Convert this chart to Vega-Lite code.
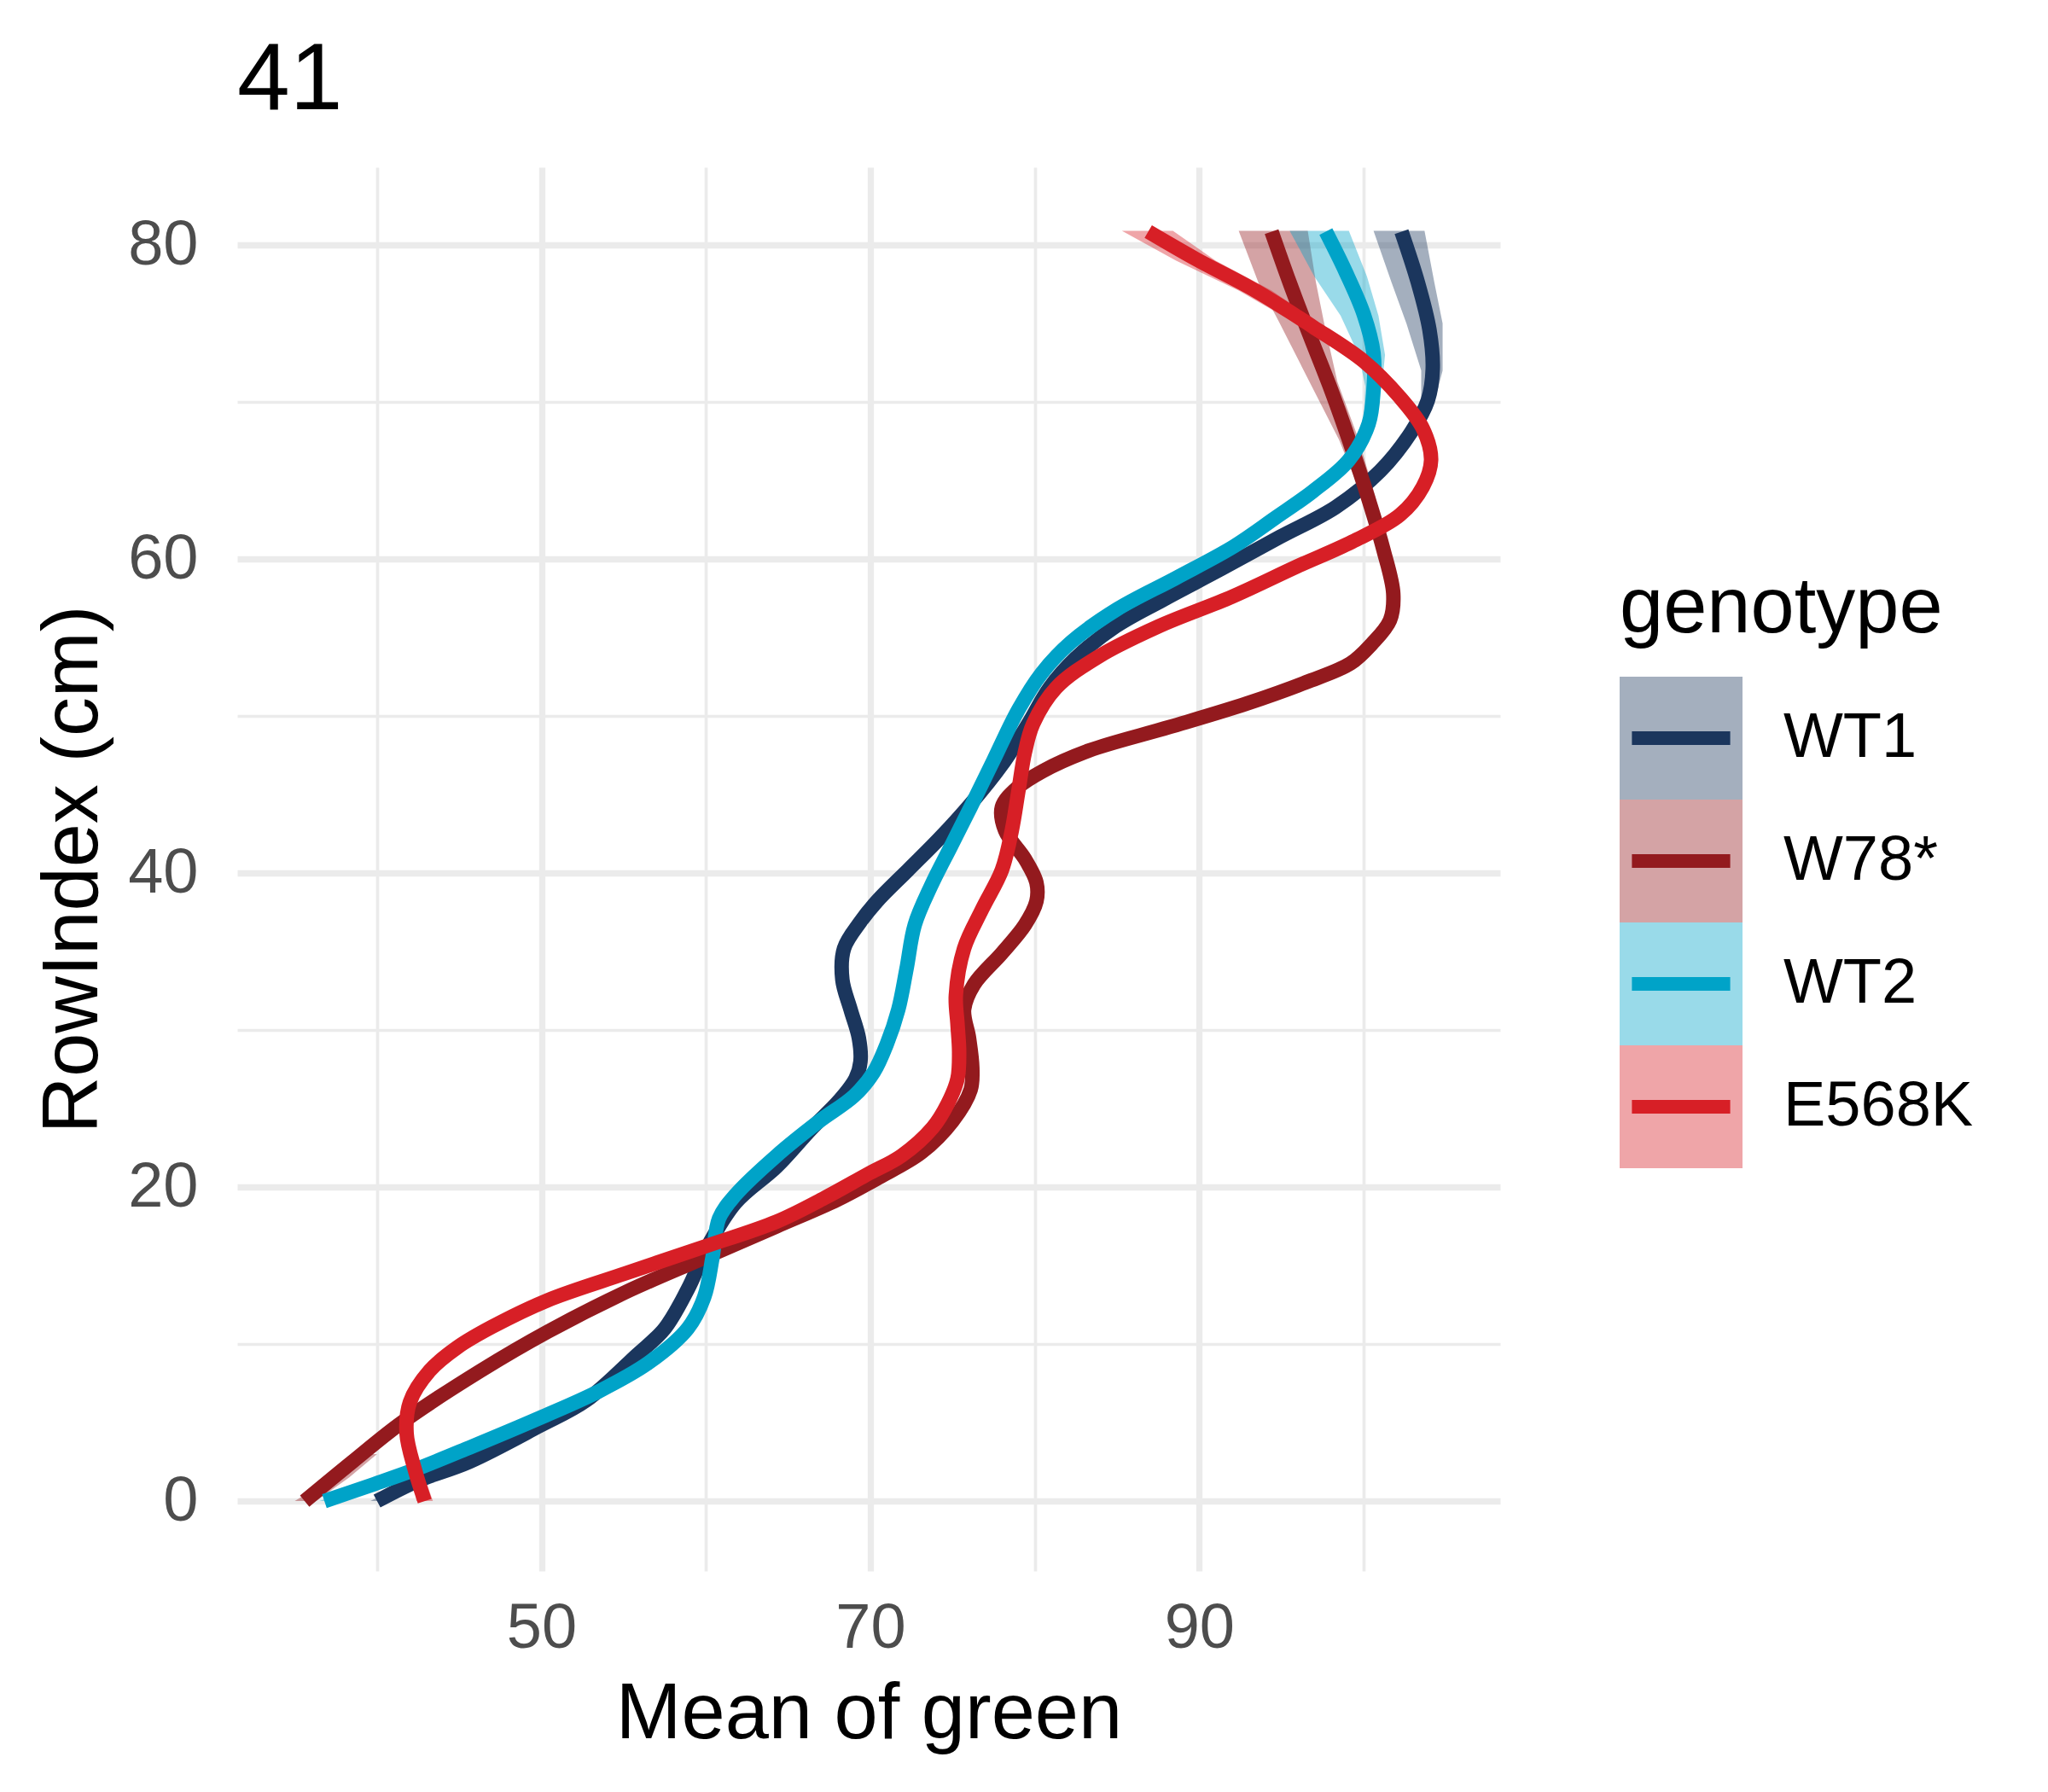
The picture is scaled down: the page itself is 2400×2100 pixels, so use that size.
{
  "$schema": "https://vega.github.io/schema/vega-lite/v6.json",
  "width": 1480,
  "height": 1645,
  "autosize": {"type": "none"},
  "padding": {"left": 278, "top": 196, "right": 642, "bottom": 259},
  "background": "white",
  "config": {"view": {"stroke": null}, "font": "Liberation Sans"},
  "title": {"text": "41", "anchor": "start", "frame": "group", "fontSize": 111, "font": "Liberation Sans", "fontWeight": "normal", "color": "black", "baseline": "alphabetic", "offset": -43},
  "datasets": {
    "lines": [
      {"g":"WT1","y":0,"x":40.0},{"g":"WT1","y":1.3,"x":42.5},{"g":"WT1","y":2.5,"x":45.6},{"g":"WT1","y":4.8,"x":49.9},{"g":"WT1","y":6.4,"x":52.7},{"g":"WT1","y":9.3,"x":55.8},{"g":"WT1","y":11,"x":57.5},{"g":"WT1","y":13.5,"x":58.9},{"g":"WT1","y":16.2,"x":60.1},{"g":"WT1","y":19,"x":61.8},{"g":"WT1","y":21.3,"x":64.3},{"g":"WT1","y":23.7,"x":66.4},{"g":"WT1","y":25.5,"x":68.1},{"g":"WT1","y":26.9,"x":69.1},{"g":"WT1","y":28.0,"x":69.4},{"g":"WT1","y":29.5,"x":69.3},{"g":"WT1","y":31.3,"x":68.8},{"g":"WT1","y":33.2,"x":68.3},{"g":"WT1","y":35.2,"x":68.4},{"g":"WT1","y":36.9,"x":69.4},{"g":"WT1","y":38.2,"x":70.4},{"g":"WT1","y":40.2,"x":72.3},{"g":"WT1","y":42.2,"x":74.2},{"g":"WT1","y":44.4,"x":76.1},{"g":"WT1","y":46.9,"x":78.0},{"g":"WT1","y":49.5,"x":79.6},{"g":"WT1","y":51.8,"x":80.9},{"g":"WT1","y":53.7,"x":82.5},{"g":"WT1","y":55.7,"x":84.9},{"g":"WT1","y":57.4,"x":87.8},{"g":"WT1","y":59.4,"x":91.4},{"g":"WT1","y":61.4,"x":94.9},{"g":"WT1","y":63.3,"x":98.3},{"g":"WT1","y":65.6,"x":101.0},{"g":"WT1","y":68.1,"x":102.9},{"g":"WT1","y":70.1,"x":103.9},{"g":"WT1","y":72.1,"x":104.2},{"g":"WT1","y":74.6,"x":104.0},{"g":"WT1","y":77.6,"x":103.3},{"g":"WT1","y":80.85,"x":102.3},
      {"g":"W78*","y":0,"x":35.6},{"g":"W78*","y":2.5,"x":38.5},{"g":"W78*","y":5,"x":41.5},{"g":"W78*","y":8.3,"x":46.3},{"g":"W78*","y":10.8,"x":50.4},{"g":"W78*","y":13.3,"x":55.1},{"g":"W78*","y":15.5,"x":59.9},{"g":"W78*","y":17.5,"x":64.3},{"g":"W78*","y":19.2,"x":68.0},{"g":"W78*","y":20.6,"x":70.5},{"g":"W78*","y":22.2,"x":73.1},{"g":"W78*","y":24.2,"x":75.0},{"g":"W78*","y":26.2,"x":76.1},{"g":"W78*","y":27.6,"x":76.2},{"g":"W78*","y":29.5,"x":76.0},{"g":"W78*","y":31.3,"x":75.7},{"g":"W78*","y":32.9,"x":76.3},{"g":"W78*","y":34.9,"x":78.0},{"g":"W78*","y":36.7,"x":79.4},{"g":"W78*","y":38.2,"x":80.1},{"g":"W78*","y":39.4,"x":80.1},{"g":"W78*","y":40.9,"x":79.4},{"g":"W78*","y":42.7,"x":78.2},{"g":"W78*","y":44.2,"x":78.0},{"g":"W78*","y":45.4,"x":78.9},{"g":"W78*","y":46.5,"x":80.5},{"g":"W78*","y":47.8,"x":83.3},{"g":"W78*","y":49.3,"x":88.2},{"g":"W78*","y":50.8,"x":92.9},{"g":"W78*","y":52.15,"x":96.5},{"g":"W78*","y":53.35,"x":99.2},{"g":"W78*","y":54.6,"x":100.5},{"g":"W78*","y":56.1,"x":101.6},{"g":"W78*","y":57.8,"x":101.8},{"g":"W78*","y":60.6,"x":101.2},{"g":"W78*","y":63.8,"x":100.3},{"g":"W78*","y":67.6,"x":99.1},{"g":"W78*","y":71.1,"x":97.9},{"g":"W78*","y":74.3,"x":96.7},{"g":"W78*","y":77.6,"x":95.5},{"g":"W78*","y":80.85,"x":94.4},
      {"g":"WT2","y":0,"x":36.8},{"g":"WT2","y":1.0,"x":39.6},{"g":"WT2","y":2,"x":42.3},{"g":"WT2","y":3.4,"x":45.6},{"g":"WT2","y":5.3,"x":49.9},{"g":"WT2","y":7,"x":53.5},{"g":"WT2","y":8.8,"x":56.5},{"g":"WT2","y":11,"x":58.9},{"g":"WT2","y":13,"x":59.9},{"g":"WT2","y":15.5,"x":60.4},{"g":"WT2","y":18,"x":60.8},{"g":"WT2","y":19.5,"x":61.8},{"g":"WT2","y":22.0,"x":64.3},{"g":"WT2","y":24.2,"x":66.9},{"g":"WT2","y":25.8,"x":69.0},{"g":"WT2","y":27.3,"x":70.2},{"g":"WT2","y":29.1,"x":71.0},{"g":"WT2","y":31.3,"x":71.7},{"g":"WT2","y":33.9,"x":72.2},{"g":"WT2","y":36.7,"x":72.7},{"g":"WT2","y":39.2,"x":73.7},{"g":"WT2","y":41.7,"x":74.9},{"g":"WT2","y":44.2,"x":76.1},{"g":"WT2","y":47.2,"x":77.5},{"g":"WT2","y":50.4,"x":79.0},{"g":"WT2","y":52.7,"x":80.4},{"g":"WT2","y":54.7,"x":82.2},{"g":"WT2","y":56.8,"x":85.0},{"g":"WT2","y":58.8,"x":88.6},{"g":"WT2","y":60.8,"x":92.1},{"g":"WT2","y":62.6,"x":94.6},{"g":"WT2","y":64.3,"x":96.9},{"g":"WT2","y":66.3,"x":99.1},{"g":"WT2","y":68.6,"x":100.3},{"g":"WT2","y":70.8,"x":100.6},{"g":"WT2","y":73.1,"x":100.6},{"g":"WT2","y":75.6,"x":100.0},{"g":"WT2","y":78.3,"x":98.9},{"g":"WT2","y":80.85,"x":97.7},
      {"g":"E568K","y":0,"x":42.9},{"g":"E568K","y":2,"x":42.3},{"g":"E568K","y":4.3,"x":41.8},{"g":"E568K","y":6.3,"x":42.0},{"g":"E568K","y":8.3,"x":43.2},{"g":"E568K","y":9.8,"x":44.9},{"g":"E568K","y":11.1,"x":47.0},{"g":"E568K","y":12.8,"x":50.4},{"g":"E568K","y":14.5,"x":55.1},{"g":"E568K","y":16.2,"x":59.9},{"g":"E568K","y":17.8,"x":64.3},{"g":"E568K","y":19.3,"x":67.2},{"g":"E568K","y":20.8,"x":69.8},{"g":"E568K","y":22.0,"x":71.9},{"g":"E568K","y":23.8,"x":73.8},{"g":"E568K","y":25.3,"x":74.7},{"g":"E568K","y":26.9,"x":75.3},{"g":"E568K","y":28.6,"x":75.4},{"g":"E568K","y":30.4,"x":75.3},{"g":"E568K","y":32.2,"x":75.2},{"g":"E568K","y":35.2,"x":75.7},{"g":"E568K","y":37.7,"x":76.8},{"g":"E568K","y":40.2,"x":78.0},{"g":"E568K","y":42.7,"x":78.6},{"g":"E568K","y":45.2,"x":79.0},{"g":"E568K","y":47.7,"x":79.4},{"g":"E568K","y":49.5,"x":79.9},{"g":"E568K","y":51.8,"x":81.3},{"g":"E568K","y":53.8,"x":83.9},{"g":"E568K","y":55.7,"x":87.5},{"g":"E568K","y":57.6,"x":92.0},{"g":"E568K","y":59.5,"x":95.9},{"g":"E568K","y":61.1,"x":99.3},{"g":"E568K","y":62.8,"x":102.2},{"g":"E568K","y":64.6,"x":103.6},{"g":"E568K","y":66.3,"x":104.1},{"g":"E568K","y":68.3,"x":103.6},{"g":"E568K","y":70.3,"x":102.2},{"g":"E568K","y":72.6,"x":100.0},{"g":"E568K","y":74.8,"x":96.9},{"g":"E568K","y":77.1,"x":93.4},{"g":"E568K","y":79.1,"x":89.8},{"g":"E568K","y":80.85,"x":86.9}
    ],
    "ribbons": [
      {"g":"WT1","part":"bottom","y":0,"lo":39.6,"hi":40.5},{"g":"WT1","part":"bottom","y":1.5,"lo":42.4,"hi":43.0},
      {"g":"WT1","part":"top","y":68,"lo":102.7,"hi":103.1},{"g":"WT1","part":"top","y":70,"lo":103.5,"hi":104.3},{"g":"WT1","part":"top","y":72,"lo":103.5,"hi":104.8},{"g":"WT1","part":"top","y":75,"lo":102.6,"hi":104.8},{"g":"WT1","part":"top","y":77.6,"lo":101.7,"hi":104.3},{"g":"WT1","part":"top","y":80.9,"lo":100.6,"hi":103.7},
      {"g":"W78*","part":"bottom","y":0,"lo":35.0,"hi":36.3},{"g":"W78*","part":"bottom","y":1.5,"lo":37.3,"hi":38.3},{"g":"W78*","part":"bottom","y":3,"lo":39.4,"hi":40.0},
      {"g":"W78*","part":"top","y":60,"lo":101.0,"hi":101.5},{"g":"W78*","part":"top","y":64,"lo":99.9,"hi":100.7},{"g":"W78*","part":"top","y":67.6,"lo":98.5,"hi":99.7},{"g":"W78*","part":"top","y":71.3,"lo":96.7,"hi":98.4},{"g":"W78*","part":"top","y":75,"lo":94.9,"hi":97.6},{"g":"W78*","part":"top","y":77.6,"lo":93.6,"hi":97.1},{"g":"W78*","part":"top","y":80.9,"lo":92.4,"hi":96.6},
      {"g":"WT2","part":"bottom","y":0,"lo":36.5,"hi":37.2},{"g":"WT2","part":"bottom","y":1,"lo":39.3,"hi":39.9},
      {"g":"WT2","part":"top","y":69,"lo":100.0,"hi":100.6},{"g":"WT2","part":"top","y":71,"lo":100.1,"hi":101.1},{"g":"WT2","part":"top","y":73,"lo":99.7,"hi":101.3},{"g":"WT2","part":"top","y":75.5,"lo":98.6,"hi":100.9},{"g":"WT2","part":"top","y":78,"lo":97.0,"hi":100.2},{"g":"WT2","part":"top","y":80.9,"lo":95.5,"hi":99.1},
      {"g":"E568K","part":"bottom","y":0,"lo":42.4,"hi":43.4},{"g":"E568K","part":"bottom","y":1.5,"lo":42.2,"hi":42.9},{"g":"E568K","part":"bottom","y":3,"lo":42.0,"hi":42.4},
      {"g":"E568K","part":"top","y":72.6,"lo":99.6,"hi":100.4},{"g":"E568K","part":"top","y":74.8,"lo":96.2,"hi":97.6},{"g":"E568K","part":"top","y":77.1,"lo":92.4,"hi":94.4},{"g":"E568K","part":"top","y":79,"lo":88.6,"hi":91.0},{"g":"E568K","part":"top","y":80.9,"lo":85.3,"hi":88.4}
    ]
  },
  "layer": [
    {
      "data": {"name": "ribbons"},
      "mark": {"type": "area", "orient": "horizontal", "opacity": 0.4, "interpolate": "linear"},
      "encoding": {
        "y": {"field": "y", "type": "quantitative",
          "scale": {"domain": [-4.45, 84.95], "nice": false, "zero": false},
          "axis": {"values": [0,10,20,30,40,50,60,70,80], "labelExpr": "datum.value % 20 == 0 ? datum.label : ''", "grid": true, "gridColor": "#EBEBEB", "gridWidth": {"condition": {"test": "datum.value % 20 == 0", "value": 7.3}, "value": 3.7}, "domain": false, "ticks": false, "tickSize": 0, "labelFontSize": 74, "labelColor": "#4D4D4D", "labelFont": "Liberation Sans", "labelPadding": 46, "labelOverlap": false, "labelFlush": false, "title": "RowIndex (cm)", "titleFontSize": 92, "titleFont": "Liberation Sans", "titleFontWeight": "normal", "titleColor": "black", "titlePadding": 17}},
        "x": {"field": "lo", "type": "quantitative",
          "scale": {"domain": [31.5, 108.3], "nice": false, "zero": false},
          "axis": {"values": [40,50,60,70,80,90,100], "labelExpr": "datum.value % 20 == 10 ? datum.label : ''", "grid": true, "gridColor": "#EBEBEB", "gridWidth": {"condition": {"test": "datum.value % 20 == 10", "value": 7.3}, "value": 3.7}, "domain": false, "ticks": false, "tickSize": 0, "labelFontSize": 74, "labelColor": "#4D4D4D", "labelFont": "Liberation Sans", "labelPadding": 31, "labelOverlap": false, "labelFlush": false, "title": "Mean of green", "titleFontSize": 92, "titleFont": "Liberation Sans", "titleFontWeight": "normal", "titleColor": "black", "titlePadding": 18}},
        "x2": {"field": "hi"},
        "detail": {"field": "part", "type": "nominal"},
        "fill": {"field": "g", "type": "nominal",
          "sort": ["WT1","W78*","WT2","E568K"],
          "scale": {"range": ["#1B365D","#931A1E","#00A3C8","#D71F26"]},
          "legend": {"orient": "none", "legendX": 1620, "legendY": 472, "direction": "vertical", "padding": 0, "title": "genotype", "titleFontSize": 92, "titleFont": "Liberation Sans", "titleFontWeight": "normal", "titleColor": "black", "titleOpacity": 0, "titlePadding": 33, "titleLimit": 1000, "labelFontSize": 74, "labelFont": "Liberation Sans", "labelColor": "black", "labelOpacity": 0, "labelOffset": 48, "labelLimit": 1000, "symbolType": "square", "symbolSize": 20736, "symbolOpacity": 0.4, "symbolStrokeWidth": 0, "rowPadding": 0, "symbolOffset": 0}}
      }
    },
    {
      "data": {"name": "lines"},
      "mark": {"type": "line", "strokeWidth": 17, "strokeCap": "butt", "interpolate": "catmull-rom"},
      "encoding": {
        "y": {"field": "y", "type": "quantitative",
          "scale": {"domain": [-4.45, 84.95], "nice": false, "zero": false},
          "axis": {"values": [0,10,20,30,40,50,60,70,80], "labelExpr": "datum.value % 20 == 0 ? datum.label : ''", "grid": true, "gridColor": "#EBEBEB", "gridWidth": {"condition": {"test": "datum.value % 20 == 0", "value": 7.3}, "value": 3.7}, "domain": false, "ticks": false, "tickSize": 0, "labelFontSize": 74, "labelColor": "#4D4D4D", "labelFont": "Liberation Sans", "labelPadding": 46, "labelOverlap": false, "labelFlush": false, "title": "RowIndex (cm)", "titleFontSize": 92, "titleFont": "Liberation Sans", "titleFontWeight": "normal", "titleColor": "black", "titlePadding": 17}},
        "x": {"field": "x", "type": "quantitative",
          "scale": {"domain": [31.5, 108.3], "nice": false, "zero": false},
          "axis": {"values": [40,50,60,70,80,90,100], "labelExpr": "datum.value % 20 == 10 ? datum.label : ''", "grid": true, "gridColor": "#EBEBEB", "gridWidth": {"condition": {"test": "datum.value % 20 == 10", "value": 7.3}, "value": 3.7}, "domain": false, "ticks": false, "tickSize": 0, "labelFontSize": 74, "labelColor": "#4D4D4D", "labelFont": "Liberation Sans", "labelPadding": 31, "labelOverlap": false, "labelFlush": false, "title": "Mean of green", "titleFontSize": 92, "titleFont": "Liberation Sans", "titleFontWeight": "normal", "titleColor": "black", "titlePadding": 18}},
        "order": {"field": "y", "type": "quantitative"},
        "stroke": {"field": "g", "type": "nominal",
          "scale": {"domain": ["WT1","W78*","WT2","E568K"], "range": ["#1B365D","#931A1E","#00A3C8","#D71F26"]},
          "legend": {"orient": "none", "legendX": 1620, "legendY": 472, "direction": "vertical", "padding": 0, "title": "genotype", "titleFontSize": 92, "titleFont": "Liberation Sans", "titleFontWeight": "normal", "titleColor": "black", "titlePadding": 33, "titleLimit": 1000, "labelFontSize": 74, "labelFont": "Liberation Sans", "labelColor": "black", "labelOffset": 48, "labelLimit": 1000, "symbolType": "M-0.9,0L0.9,0", "symbolSize": 16384, "symbolStrokeWidth": 16, "symbolFillColor": "transparent", "symbolOpacity": 1, "rowPadding": 35, "symbolOffset": 0}}
      }
    }
  ]
}
